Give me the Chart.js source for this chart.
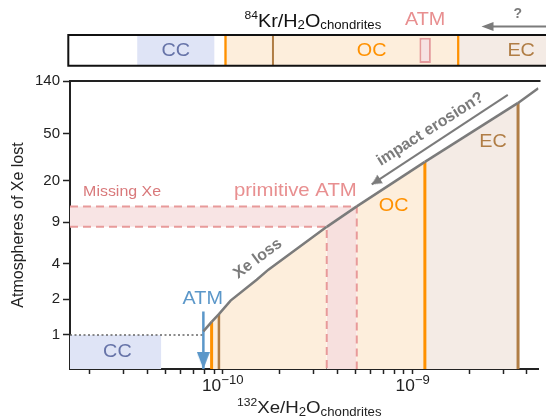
<!DOCTYPE html>
<html>
<head>
<meta charset="utf-8">
<script src="https://cdn.jsdelivr.net/npm/chart.js@4.4.1/dist/chart.umd.min.js"></script>
<style>
  html, body { margin: 0; padding: 0; background: #fff; overflow: hidden; }
  #wrap { position: relative; width: 546px; height: 420px; }
  canvas { position: absolute; left: 0; top: 0; }
</style>
</head>
<body>
<div id="wrap">
  <canvas id="main" width="546" height="420"></canvas>
  <canvas id="strip" width="546" height="75"></canvas>
</div>
<script>
// ---- data ----
const X_RANGE = [1.57e-11, 4.6e-9];
const Y_RANGE = [0.515, 140];
const yTicks = [1, 2, 4, 9, 20, 50, 140];
const xTicks = [2e-11, 3e-11, 4e-11, 5e-11, 6e-11, 7e-11, 8e-11, 9e-11,
    1e-10, 2e-10, 3e-10, 4e-10, 5e-10, 6e-10, 7e-10, 8e-10, 9e-10,
    1e-9, 2e-9, 3e-9, 4e-9];
const xMajorTicks = [1e-10, 1e-9];
const xMajorExp = ['\u221210', '\u22129'];

// Xe loss curve
const xeLossX = [7.91e-11, 8.74e-11, 9.55e-11, 1.10e-10, 1.51e-10, 1.74e-10, 3.53e-10, 5.08e-10, 1.16e-9, 3.59e-9, 4.59e-9];
const xeLossY = [1.07, 1.29, 1.50, 1.95, 2.93, 3.56, 8.19, 12.2, 29.0, 91.4, 121.6];

// chondrite groups (132Xe/H2O)
const ccBox = [4.75e-11, 1];           // upper x, upper y
const ocRange = [8.74e-11, 1.16e-9];
const ocInner = 9.55e-11;
const ecRange = [1.16e-9, 3.59e-9];
const primitiveX = [3.53e-10, 5.08e-10];
const primitiveY = [8.19, 12.2];
const atmX = 7.91e-11;
const atmArrowY = [1.58, Y_RANGE[0]];
const erosionX = [3.17e-9, 6.09e-10];
const erosionY = [107, 18.7];

// top strip (84Kr/H2O, relative units 0-100)
const stripCC = [14.5, 30.5];
const stripOC = [32.7, 42.6, 81.4];
const stripEC = [81.4, 100];
const stripATM = [73.5, 75.9];
const stripArrow = [100, 86.5];

// ---- styles ----
const FAM = '"Liberation Sans", Arial, Helvetica, sans-serif';
const C = {
  cc: '#dfe4f6', ccText: '#6673a8',
  oc: '#fdeedc', orange: '#ff9100',
  ec: '#f4ebe5', brown: '#b07d45',
  pink: '#f8e4e4', pinkOc: '#f7e0de', pinkLine: '#e89a9a', pinkText: '#e88f90',
  blue: '#5b97c9', gray: '#7b7b7b', axis: '#222'
};

const pts = (xs, ys) => xs.map((x, i) => ({ x: x, y: ys[i] }));
const curveAt = x => xeLossY[xeLossX.indexOf(x)];

function arrowHead(w, h, color) {
  const c = document.createElement('canvas');
  c.width = w; c.height = h * 2;
  const g = c.getContext('2d');
  g.fillStyle = color;
  g.beginPath(); g.moveTo(0, 0); g.lineTo(w, 0); g.lineTo(w / 2, h); g.closePath(); g.fill();
  return c;
}

function zoneColor(a, b) {
  if (a >= primitiveX[0] && b <= primitiveX[1]) return C.pinkOc;
  if (a >= ocRange[0] && b <= ocRange[1]) return C.oc;
  if (a >= ecRange[0] && b <= ecRange[1]) return C.ec;
  return 'rgba(0,0,0,0)';
}

function line(data, opts) {
  return Object.assign({ data: data, borderWidth: 2, pointRadius: 0, fill: false, tension: 0 }, opts);
}

function drawLabel(ctx, a, px, py) {
  ctx.save();
  ctx.translate(px, py);
  if (a.rot) ctx.rotate(a.rot * Math.PI / 180);
  ctx.scale(a.sx || 1, 1);
  ctx.font = (a.bold ? 'bold ' : '') + a.size + 'px ' + FAM;
  ctx.fillStyle = a.color;
  ctx.textAlign = a.align || 'center';
  ctx.textBaseline = 'middle';
  ctx.fillText(a.text, 0, 0);
  ctx.restore();
}

function drawRich(ctx, parts, cx, baseline, sx, color) {
  let total = 0;
  parts.forEach(p => { ctx.font = p.size + 'px ' + FAM; p.w = ctx.measureText(p.t).width; total += p.w; });
  ctx.save();
  ctx.translate(cx, baseline);
  ctx.scale(sx, 1);
  ctx.fillStyle = color;
  ctx.textAlign = 'left';
  ctx.textBaseline = 'alphabetic';
  let x = -total / 2;
  parts.forEach(p => { ctx.font = p.size + 'px ' + FAM; ctx.fillText(p.t, x, p.dy); x += p.w; });
  ctx.restore();
}

// ---- main chart ----
const mainNotes = [
  { text: 'Missing Xe', x: 1.84e-11, y: 16.1, color: '#d9797b', size: 14.5, align: 'left', sx: 1.1 },
  { text: 'primitive ATM', x: 5.08e-10, y: 16.4, color: C.pinkText, size: 18.5, align: 'right', sx: 1.1 },
  { text: 'OC', x: 7.94e-10, y: 12.4, color: C.orange, size: 18, sx: 1.1 },
  { text: 'EC', x: 2.65e-9, y: 42.5, color: C.brown, size: 18, sx: 1.1 },
  { text: 'CC', x: 2.79e-11, y: 0.72, color: C.ccText, size: 18, sx: 1.1 },
  { text: 'ATM', x: 7.85e-11, y: 2.02, color: C.blue, size: 18, sx: 1.1 },
  { text: 'Xe loss', x: 1.53e-10, y: 4.41, color: C.gray, size: 16, bold: true, rot: -36.7 },
  { text: 'impact erosion?', x: 1.24e-9, y: 54.8, color: C.gray, size: 16, bold: true, rot: -32.5 }
];

const mainDecor = {
  id: 'mainDecor',
  afterDraw(chart) {
    const ctx = chart.ctx, a = chart.chartArea;
    const xs = chart.scales.x, ys = chart.scales.y;
    ctx.save();
    ctx.strokeStyle = C.axis; ctx.lineWidth = 2;
    ctx.beginPath(); ctx.moveTo(a.left - 1, a.top); ctx.lineTo(a.right + 2, a.top); ctx.stroke();
    ctx.restore();
    // major x tick labels with real superscripts
    xMajorTicks.forEach((v, i) => {
      drawRich(ctx, [{ t: '10', size: 16.5, dy: 0 }, { t: xMajorExp[i], size: 12.5, dy: -7 }],
        xs.getPixelForValue(v), a.bottom + 22, 1.05, C.axis);
    });
    mainNotes.forEach(n => drawLabel(ctx, n, xs.getPixelForValue(n.x), ys.getPixelForValue(n.y)));
    drawRich(ctx, [
      { t: '132', size: 11, dy: -7 }, { t: 'Xe/H', size: 17, dy: 0 }, { t: '2', size: 12, dy: 3 },
      { t: 'O', size: 17, dy: 0 }, { t: 'chondrites', size: 12, dy: 3 }
    ], (a.left + a.right) / 2 + 5, 413, 1.1, C.axis);
  }
};

const datasets = [
  line(pts(xeLossX, xeLossY), {
    borderColor: C.gray, borderWidth: 2.5, fill: 'start', backgroundColor: 'rgba(0,0,0,0)',
    segment: { backgroundColor: ctx => zoneColor(ctx.p0.parsed.x, ctx.p1.parsed.x) }, order: 0
  }),
  line(pts([X_RANGE[0], ccBox[0]], [ccBox[1], ccBox[1]]), {
    borderWidth: 0, fill: 'start', backgroundColor: C.cc, order: 20
  }),
  line(pts([X_RANGE[0], primitiveX[1]], [primitiveY[1], primitiveY[1]]), {
    borderWidth: 0, fill: '+1', backgroundColor: C.pink, order: 19
  }),
  line(pts([X_RANGE[0], primitiveX[0], primitiveX[1]], [primitiveY[0], primitiveY[0], primitiveY[1]]), {
    borderWidth: 0, order: 18
  }),
  line(pts([X_RANGE[0], primitiveX[1], primitiveX[1]], [primitiveY[1], primitiveY[1], Y_RANGE[0]]), {
    borderColor: C.pinkLine, borderDash: [8, 5], order: 5
  }),
  line(pts([X_RANGE[0], primitiveX[0], primitiveX[0]], [primitiveY[0], primitiveY[0], Y_RANGE[0]]), {
    borderColor: C.pinkLine, borderDash: [8, 5], order: 5
  }),
  line(pts([ocRange[0], ocRange[0]], [Y_RANGE[0], curveAt(ocRange[0])]), { borderColor: C.orange, borderWidth: 3, order: 4 }),
  line(pts([ocInner, ocInner], [Y_RANGE[0], curveAt(ocInner)]), { borderColor: C.brown, borderWidth: 2.5, order: 4 }),
  line(pts([ecRange[0], ecRange[0]], [Y_RANGE[0], curveAt(ecRange[0])]), { borderColor: C.orange, borderWidth: 3, order: 4 }),
  line(pts([ecRange[1], ecRange[1]], [Y_RANGE[0], curveAt(ecRange[1])]), { borderColor: C.brown, borderWidth: 3, order: 4 }),
  line(pts([X_RANGE[0], atmX], [1, 1]), { borderColor: '#666', borderWidth: 1.5, borderDash: [2, 2.5], order: 6 }),
  line(pts([atmX, atmX], atmArrowY), {
    borderColor: C.blue, borderWidth: 2.5, order: 1,
    pointRadius: [0, 5], pointStyle: arrowHead(13, 17, C.blue), pointRotation: 0
  }),
  line(pts(erosionX, erosionY), {
    borderColor: C.gray, borderWidth: 2, order: 1,
    pointRadius: [0, 5], pointStyle: arrowHead(10, 10, C.gray), pointRotation: [0, 57]
  })
];

new Chart(document.getElementById('main'), {
  type: 'line',
  data: { datasets: datasets },
  options: {
    responsive: false, animation: false, devicePixelRatio: 1,
    layout: { padding: { top: 81, right: 0, bottom: 0, left: 0 } },
    plugins: { legend: { display: false }, tooltip: { enabled: false }, filler: { drawTime: 'beforeDatasetsDraw' } },
    scales: {
      x: {
        type: 'logarithmic', min: X_RANGE[0], max: X_RANGE[1],
        afterFit: s => { s.height = 51; },
        afterBuildTicks: s => { s.ticks = xTicks.map(v => ({ value: v })); },
        ticks: { autoSkip: false, maxRotation: 0, padding: 1, font: { size: 16, family: FAM }, callback: () => '' },
        grid: { drawOnChartArea: false, tickLength: 5, tickColor: C.axis, tickWidth: 1.5 },
        border: { color: C.axis, width: 2 }
      },
      y: {
        type: 'logarithmic', min: Y_RANGE[0], max: Y_RANGE[1],
        afterFit: s => { s.width = 70; },
        afterBuildTicks: s => { s.ticks = yTicks.map(v => ({ value: v })); },
        ticks: { autoSkip: false, padding: 3, color: C.axis, font: { size: 15, family: FAM }, callback: v => String(v) },
        grid: { drawOnChartArea: false, tickLength: 7, tickColor: C.axis, tickWidth: 1.5 },
        border: { color: C.axis, width: 2 },
        title: { display: true, text: 'Atmospheres of Xe lost', color: C.axis, font: { size: 16, family: FAM }, padding: { top: 9, bottom: 0 } }
      }
    }
  },
  plugins: [mainDecor]
});

// ---- top strip ----
const stripDecor = {
  id: 'stripDecor',
  afterDraw(chart) {
    const ctx = chart.ctx, a = chart.chartArea, xs = chart.scales.x;
    const mid = (a.top + a.bottom) / 2;
    ctx.save();
    ctx.strokeStyle = '#111'; ctx.lineWidth = 2;
    ctx.beginPath();
    ctx.moveTo(a.right + 3, a.top); ctx.lineTo(a.left, a.top); ctx.lineTo(a.left, a.bottom); ctx.lineTo(a.right + 3, a.bottom);
    ctx.stroke();
    // "?" arrow
    const x0 = xs.getPixelForValue(stripArrow[0]), x1 = xs.getPixelForValue(stripArrow[1]);
    const ay = a.top - 8.5;
    ctx.strokeStyle = C.gray; ctx.fillStyle = C.gray; ctx.lineWidth = 2;
    ctx.beginPath(); ctx.moveTo(x0 + 2, ay); ctx.lineTo(x1 + 8, ay); ctx.stroke();
    ctx.beginPath(); ctx.moveTo(x1, ay); ctx.lineTo(x1 + 12, ay - 4.5); ctx.lineTo(x1 + 12, ay + 4.5); ctx.closePath(); ctx.fill();
    ctx.restore();
    drawLabel(ctx, { text: '?', color: C.gray, size: 14, bold: true }, (x0 + x1) / 2 + 4, a.top - 21);
    drawLabel(ctx, { text: 'CC', color: C.ccText, size: 18, sx: 1.1 }, xs.getPixelForValue((stripCC[0] + stripCC[1]) / 2), mid + 1);
    drawLabel(ctx, { text: 'OC', color: C.orange, size: 18, sx: 1.1 }, xs.getPixelForValue(63.5), mid + 1);
    drawLabel(ctx, { text: 'EC', color: C.brown, size: 18, sx: 1.1 }, xs.getPixelForValue(94.8), mid + 1);
    drawLabel(ctx, { text: 'ATM', color: C.pinkText, size: 18, sx: 1.1 }, xs.getPixelForValue((stripATM[0] + stripATM[1]) / 2), a.top - 15);
    drawRich(ctx, [
      { t: '84', size: 11, dy: -8 }, { t: 'Kr/H', size: 18, dy: 0 }, { t: '2', size: 12, dy: 2 },
      { t: 'O', size: 18, dy: 0 }, { t: 'chondrites', size: 12, dy: 2 }
    ], xs.getPixelForValue(51.2), 26.5, 1.1, '#111');
  }
};

const bar = (range, opts) => Object.assign({
  data: [range], barPercentage: 1, categoryPercentage: 1, borderSkipped: false, borderWidth: 0
}, opts);

new Chart(document.getElementById('strip'), {
  type: 'bar',
  data: {
    labels: ['Kr'],
    datasets: [
      bar(stripATM, { backgroundColor: '#f6e2e3', borderColor: '#e49a9c', borderWidth: 2, barPercentage: 0.82, order: 0 }),
      bar(stripCC, { backgroundColor: C.cc, order: 3 }),
      bar([stripOC[0], stripOC[1]], { backgroundColor: C.oc, borderColor: C.orange, borderWidth: { left: 2.5, right: 0, top: 0, bottom: 0 }, order: 2 }),
      bar([stripOC[1], stripOC[2]], {
        backgroundColor: C.oc,
        borderColor: [C.brown], borderWidth: { left: 2.5, right: 0, top: 0, bottom: 0 }, order: 2
      }),
      bar(stripEC, { backgroundColor: C.ec, borderColor: C.orange, borderWidth: { left: 2.5, right: 0, top: 0, bottom: 0 }, order: 2 })
    ]
  },
  options: {
    indexAxis: 'y', responsive: false, animation: false, devicePixelRatio: 1,
    layout: { padding: { top: 35, bottom: 9.3, left: 68.3, right: 0 } },
    plugins: { legend: { display: false }, tooltip: { enabled: false } },
    scales: {
      x: { type: 'linear', min: 0, max: 100, display: false },
      y: { display: false }
    },
    datasets: { bar: { grouped: false } }
  },
  plugins: [stripDecor]
});
</script>
</body>
</html>
